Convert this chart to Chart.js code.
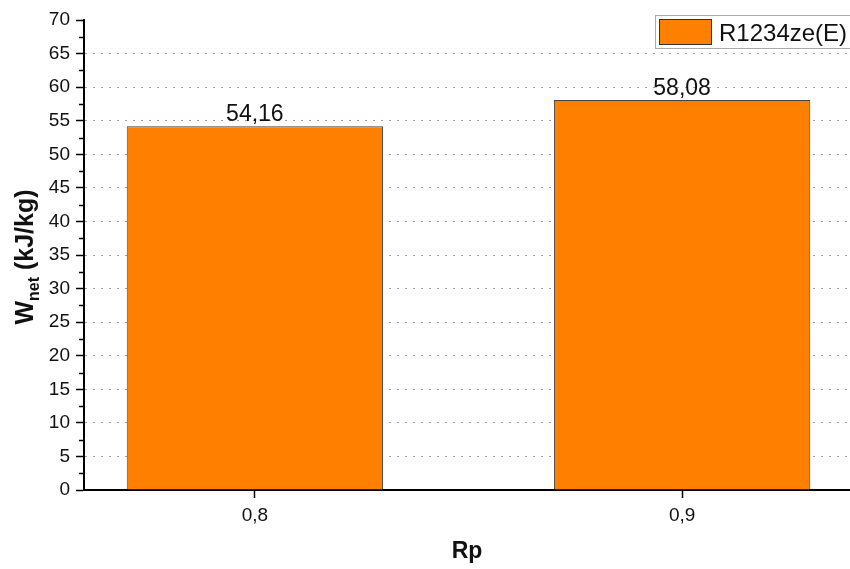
<!DOCTYPE html>
<html>
<head>
<meta charset="utf-8">
<script src="https://cdn.jsdelivr.net/npm/chart.js@4/dist/chart.umd.min.js"></script>
<style>
  html, body { margin: 0; padding: 0; background: #fff; }
  #chart { display: block; }
</style>
</head>
<body>
<canvas id="chart" width="850" height="569"></canvas>
<script>
// data
const rpValues = [0.8, 0.9];
const wnetValues = [54.16, 58.08];
const seriesName = 'R1234ze(E)';
const yTicks = [0, 5, 10, 15, 20, 25, 30, 35, 40, 45, 50, 55, 60, 65, 70];

const FONT = '"Liberation Sans", Arial, sans-serif';

function commaNum(v, digits) {
    return v.toFixed(digits).replace('.', ',');
}

// minor ticks, y axis title, value labels and legend box
const extras = {
    id: 'extras',
    afterDraw(chart) {
        const ctx = chart.ctx;
        const y = chart.scales.y;
        const area = chart.chartArea;
        ctx.save();

        // minor ticks on y
        ctx.strokeStyle = '#000';
        ctx.lineWidth = 1.5;
        for (let v = 2.5; v < 70; v += 5) {
            const py = Math.round(y.getPixelForValue(v)) + 0.5;
            ctx.beginPath();
            ctx.moveTo(area.left - 5, py);
            ctx.lineTo(area.left, py);
            ctx.stroke();
        }

        // value labels above bars
        ctx.fillStyle = '#111';
        ctx.font = '23px ' + FONT;
        ctx.textAlign = 'center';
        ctx.textBaseline = 'alphabetic';
        chart.getDatasetMeta(0).data.forEach((bar, i) => {
            ctx.fillText(commaNum(wnetValues[i], 2), bar.x, bar.y - 5);
        });

        // y axis title with subscript
        ctx.save();
        ctx.translate(33, 257);
        ctx.rotate(-Math.PI / 2);
        ctx.fillStyle = '#111';
        const big = 'bold 25px ' + FONT;
        const small = 'bold 16px ' + FONT;
        ctx.font = big;
        const wW = ctx.measureText('W').width;
        const restW = ctx.measureText(' (kJ/kg)').width;
        ctx.font = small;
        const netW = ctx.measureText('net').width;
        const x0 = -(wW + netW + restW) / 2;
        ctx.textAlign = 'left';
        ctx.font = big;
        ctx.fillText('W', x0, 0);
        ctx.font = small;
        ctx.fillText('net', x0 + wW, 6);
        ctx.font = big;
        ctx.fillText(' (kJ/kg)', x0 + wW + netW, 0);
        ctx.restore();

        // legend box
        ctx.fillStyle = '#fff';
        ctx.fillRect(656, 15, 200, 33);
        ctx.strokeStyle = '#aaa';
        ctx.lineWidth = 1;
        ctx.strokeRect(655.5, 15.5, 200, 33);
        ctx.fillStyle = '#FF8000';
        ctx.fillRect(659, 19, 53, 26);
        ctx.strokeStyle = '#333';
        ctx.strokeRect(659.5, 19.5, 52, 25);
        ctx.fillStyle = '#111';
        ctx.font = '24px ' + FONT;
        ctx.textAlign = 'left';
        ctx.textBaseline = 'alphabetic';
        ctx.fillText(seriesName, 719, 41);

        ctx.restore();
    }
};

new Chart(document.getElementById('chart'), {
    type: 'bar',
    data: {
        datasets: [{
            label: seriesName,
            data: rpValues.map((r, i) => ({ x: r, y: wnetValues[i] })),
            backgroundColor: '#FF8000',
            borderColor: '#444',
            borderWidth: 1,
            borderSkipped: 'bottom',
            barPercentage: 0.6,
            categoryPercentage: 1
        }]
    },
    options: {
        responsive: false,
        animation: false,
        layout: { padding: { top: 20, right: 0, left: 0, bottom: 0 } },
        plugins: {
            legend: { display: false },
            tooltip: { enabled: false }
        },
        scales: {
            x: {
                type: 'linear',
                offset: false,
                min: 0.76,
                max: 0.9393,
                afterBuildTicks: (axis) => { axis.ticks = rpValues.map(v => ({ value: v })); },
                afterFit: (axis) => { axis.height = 79; },
                ticks: {
                    callback: (v) => commaNum(v, 1),
                    color: '#111',
                    font: { family: FONT, size: 19 },
                    padding: 6,
                    maxRotation: 0
                },
                grid: {
                    offset: false,
                    drawOnChartArea: false,
                    tickLength: 8,
                    tickColor: '#000',
                    tickWidth: 1.5
                },
                border: { color: '#000', width: 2 },
                title: {
                    display: true,
                    text: 'Rp',
                    color: '#111',
                    font: { family: FONT, size: 23, weight: 'bold' },
                    padding: { top: 10, bottom: 4 }
                }
            },
            y: {
                min: 0,
                max: 70,
                afterBuildTicks: (axis) => { axis.ticks = yTicks.map(v => ({ value: v })); },
                afterFit: (axis) => { axis.width = 84; },
                ticks: {
                    color: '#111',
                    font: { family: FONT, size: 19 },
                    padding: 6
                },
                grid: {
                    color: (c) => (c.tick && (c.tick.value === 0 || c.tick.value === 70)) ? 'rgba(0,0,0,0)' : '#a0a0a0',
                    lineWidth: 1,
                    tickLength: 8,
                    tickColor: '#000',
                    tickWidth: 1.5,
                    tickBorderDash: []
                },
                border: { color: '#000', width: 2, dash: [2, 6] }
            }
        }
    },
    plugins: [extras]
});
</script>
</body>
</html>
